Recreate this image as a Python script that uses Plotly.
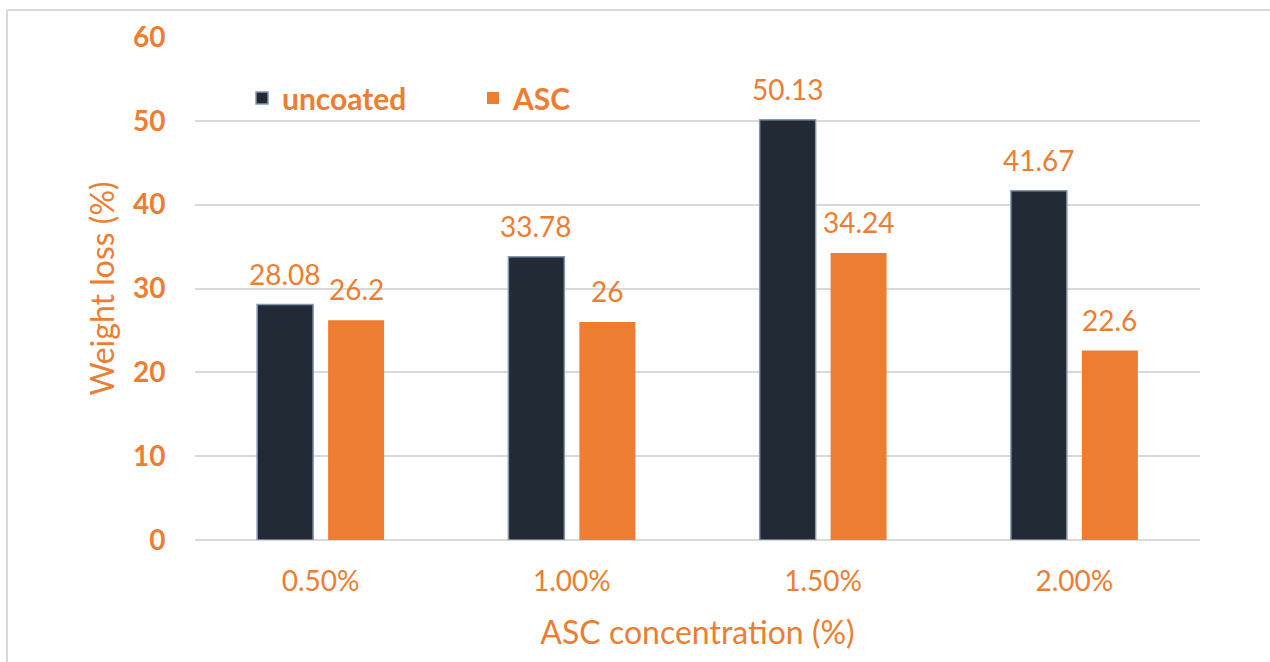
import plotly.graph_objects as go

categories = ["0.50%", "1.00%", "1.50%", "2.00%"]
uncoated = [28.08, 33.78, 50.13, 41.67]
asc = [26.2, 26, 34.24, 22.6]
series_names = ["uncoated", "ASC"]
y_ticks = [0, 10, 20, 30, 40, 50, 60]

ORANGE = "#ED7D31"
DARK = "#222A35"
FONT = "Lato"

W, H = 1270, 662
L, R, T, B = 195, 70, 37, 122
pw, ph = W - L - R, H - T - B

fig = go.Figure()
fig.add_trace(go.Bar(x=categories, y=uncoated, name=series_names[0],
                     marker=dict(color=DARK, line=dict(color="#8497B0", width=1.5))))
fig.add_trace(go.Bar(x=categories, y=asc, name=series_names[1],
                     marker=dict(color=ORANGE, line=dict(color=ORANGE, width=0))))

annotations = []
for i, c in enumerate(categories):
    for vals, shift in ((uncoated, -35.5), (asc, 35.5)):
        annotations.append(dict(x=c, y=vals[i], xref="x", yref="y", text=f"{vals[i]:g}",
                                showarrow=False, yanchor="bottom", yshift=12, xshift=shift,
                                font=dict(family=FONT, size=28, color=ORANGE)))

# chart-area border (left and top edges)
px = lambda x: (x - L) / pw
py = lambda y: (H - B - y) / ph
shapes = [
    dict(type="line", xref="paper", yref="paper", x0=px(7), x1=px(1300), y0=py(10), y1=py(10),
         line=dict(color="#D9D9D9", width=2)),
    dict(type="line", xref="paper", yref="paper", x0=px(7), x1=px(7), y0=py(10), y1=py(700),
         line=dict(color="#D9D9D9", width=2)),
]

fig.update_layout(
    width=W, height=H,
    margin=dict(l=L, r=R, t=T, b=B),
    plot_bgcolor="white", paper_bgcolor="white",
    barmode="group", bargap=0.435, bargroupgap=0.211,
    font=dict(family=FONT, color=ORANGE),
    legend=dict(orientation="h", x=px(242), y=py(98), xanchor="left", yanchor="middle",
                font=dict(family=FONT, size=30, color=ORANGE, weight="bold"),
                entrywidth=186, entrywidthmode="pixels", bgcolor="rgba(0,0,0,0)"),
    xaxis=dict(title=dict(text="ASC concentration (%)", font=dict(size=32, color=ORANGE), standoff=26),
               tickfont=dict(size=28, color=ORANGE), showgrid=False, showline=False,
               ticks="outside", ticklen=16, tickcolor="rgba(0,0,0,0)"),
    yaxis=dict(title=dict(text="Weight loss (%)", font=dict(size=32, color=ORANGE), standoff=8),
               range=[0, 60], tickvals=y_ticks, tickfont=dict(size=28, color=ORANGE, weight="bold"),
               showgrid=True, gridcolor="#D9D9D9", gridwidth=1.5, zeroline=True,
               zerolinecolor="#D9D9D9", zerolinewidth=1.5, showline=False,
               ticks="outside", ticklen=23, tickcolor="rgba(0,0,0,0)"),
    annotations=annotations, shapes=shapes,
)

fig.write_html("out.html")
